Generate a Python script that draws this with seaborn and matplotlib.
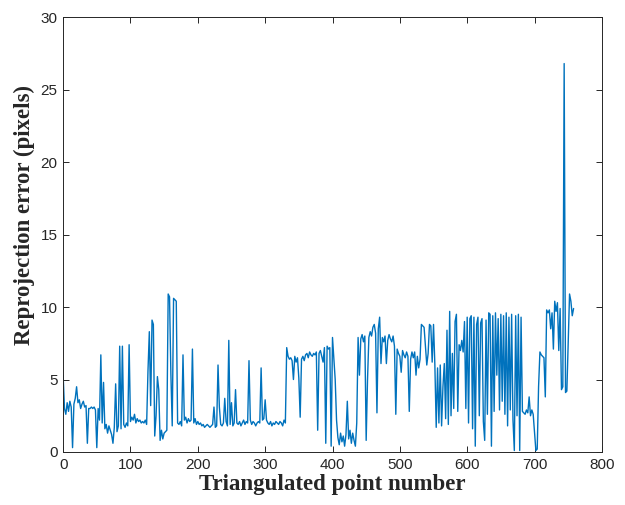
import numpy as np
import pandas as pd
import matplotlib
matplotlib.use("Agg")
import matplotlib.pyplot as plt
import seaborn as sns

sns.set_theme(style="ticks")
plt.rcParams['font.family'] = ['Liberation Sans', 'DejaVu Sans']

# reprojection error per triangulated point (sampled every 2 points)
point_step = 2
reproj_error = [
    5.3, 3.0, 2.6, 3.4, 2.8, 3.5, 3.1, 0.3, 3.3, 3.7,
    4.5, 3.4, 3.6, 3.0, 3.3, 3.5, 3.1, 3.2, 0.6, 3.0,
    3.0, 3.1, 3.0, 3.1, 2.9, 0.3, 3.0, 2.2, 6.7, 2.0,
    4.8, 1.6, 1.9, 1.3, 1.8, 1.5, 1.2, 0.6, 1.7, 4.7,
    1.4, 1.8, 7.3, 1.6, 7.3, 1.9, 1.7, 2.0, 1.8, 7.4,
    2.1, 2.4, 2.2, 2.6, 2.0, 2.3, 2.1, 2.2, 2.0, 2.1,
    2.0, 2.2, 1.9, 5.6, 8.3, 3.2, 9.1, 8.8, 1.1, 2.5,
    5.2, 4.3, 0.8, 1.5, 0.9, 1.3, 1.4, 1.5, 10.9, 10.7,
    5.4, 1.8, 10.6, 10.5, 10.4, 2.0, 1.9, 2.1, 1.8, 6.7,
    2.2, 2.4, 2.0, 2.3, 2.1, 2.2, 7.1, 2.0, 2.3, 1.9,
    2.1, 1.9, 2.0, 1.8, 1.9, 1.7, 1.8, 1.9, 1.8, 1.7,
    1.8, 1.9, 3.1, 1.7, 1.8, 6.0, 3.1, 1.9, 1.8, 2.0,
    3.7, 2.1, 1.8, 7.7, 1.9, 3.4, 1.8, 2.0, 4.3, 2.0,
    1.9, 2.1, 1.8, 2.0, 2.2, 1.9, 2.1, 2.0, 6.3, 2.2,
    1.9, 2.1, 2.0, 1.8, 2.0, 2.1, 2.0, 5.8, 2.2, 2.3,
    3.6, 2.2, 2.0, 1.9, 2.1, 1.8, 2.0, 1.9, 2.1, 2.0,
    1.9, 2.1, 2.0, 1.8, 2.2, 2.0, 7.2, 6.6, 6.4, 6.5,
    6.3, 5.0, 6.6, 6.2, 6.5, 5.1, 2.4, 6.4, 6.6, 6.3,
    6.7, 6.8, 6.5, 6.9, 6.7, 6.6, 6.8, 6.7, 6.9, 1.5,
    6.8, 7.0, 6.6, 6.2, 7.2, 0.6, 7.3, 7.1, 7.2, 0.4,
    7.9, 6.5, 5.0, 2.2, 1.0, 0.5, 1.3, 0.7, 1.1, 0.4,
    1.2, 3.5, 0.9, 1.5, 0.6, 1.3, 0.8, 0.4, 2.0, 7.9,
    5.3, 7.8, 8.1, 7.6, 8.0, 0.8, 5.0, 7.9, 8.3, 8.0,
    8.6, 8.8, 8.2, 2.7, 8.5, 9.3, 6.1, 7.9, 7.6, 8.0,
    6.1, 7.7, 8.1, 7.8, 7.6, 8.0, 7.3, 2.6, 7.1, 6.8,
    6.6, 5.5, 7.0, 6.7, 6.5, 6.9, 6.6, 2.8, 6.4, 6.9,
    6.5, 6.9, 5.3, 6.6, 5.8, 6.4, 8.8, 8.7, 8.6, 7.3,
    6.0, 6.8, 8.8, 8.7, 6.2, 8.8, 6.0, 1.7, 5.8, 2.0,
    6.0, 1.8, 4.5, 6.1, 2.3, 8.4, 1.9, 9.7, 2.5, 6.8,
    3.0, 9.0, 9.5, 2.8, 7.4, 7.0, 7.7, 6.9, 9.0, 3.0,
    9.3, 2.0, 9.2, 9.4, 1.6, 9.3, 0.4, 8.8, 9.3, 2.5,
    8.9, 9.2, 2.1, 0.8, 9.1, 2.6, 9.6, 9.5, 0.4, 9.4,
    2.8, 9.6, 5.3, 9.2, 2.9, 9.5, 3.5, 9.4, 2.6, 9.6,
    1.8, 9.3, 2.9, 9.5, 2.2, 0.1, 9.4, 2.5, 9.5, 0.1,
    9.3, 2.8, 2.7, 2.6, 2.9, 2.7, 3.8, 2.5, 2.9, 2.6,
    1.3, 0.1, 0.2, 4.5, 6.9, 6.7, 6.6, 6.5, 3.8, 9.8,
    9.6, 9.8, 8.5, 9.6, 7.1, 10.4, 9.7, 10.3, 7.0, 9.9,
    4.3, 4.5, 26.8, 4.1, 4.2, 7.5, 10.9, 10.4, 9.4, 9.9,
]
point_number = [i * point_step for i in range(len(reproj_error))]

df = pd.DataFrame({'point': point_number, 'error': reproj_error})

fig = plt.figure(figsize=(6.25, 5.05), dpi=100)
ax = fig.add_axes([0.101, 0.105, 0.862, 0.861])

sns.lineplot(data=df, x='point', y='error', ax=ax, color='#0072BD', linewidth=1.0)

ax.set_xlim(0, 800)
ax.set_ylim(0, 30)
ax.set_xticks(range(0, 801, 100))
ax.set_yticks(range(0, 31, 5))
ax.tick_params(direction='in', top=True, right=True, length=4, width=0.7,
               labelsize=11, colors='#262626', pad=4)
for s in ax.spines.values():
    s.set_linewidth(0.7)
    s.set_color('#262626')

serif = ['Liberation Serif', 'DejaVu Serif']
ax.set_xlabel('Triangulated point number', fontsize=16.5, fontweight='bold', family=serif, labelpad=2)
ax.set_ylabel('Reprojection error (pixels)', fontsize=16.5, fontweight='bold', family=serif)
ax.yaxis.set_label_coords(-0.052, 0.545)

fig.savefig('out.png', dpi=100)
